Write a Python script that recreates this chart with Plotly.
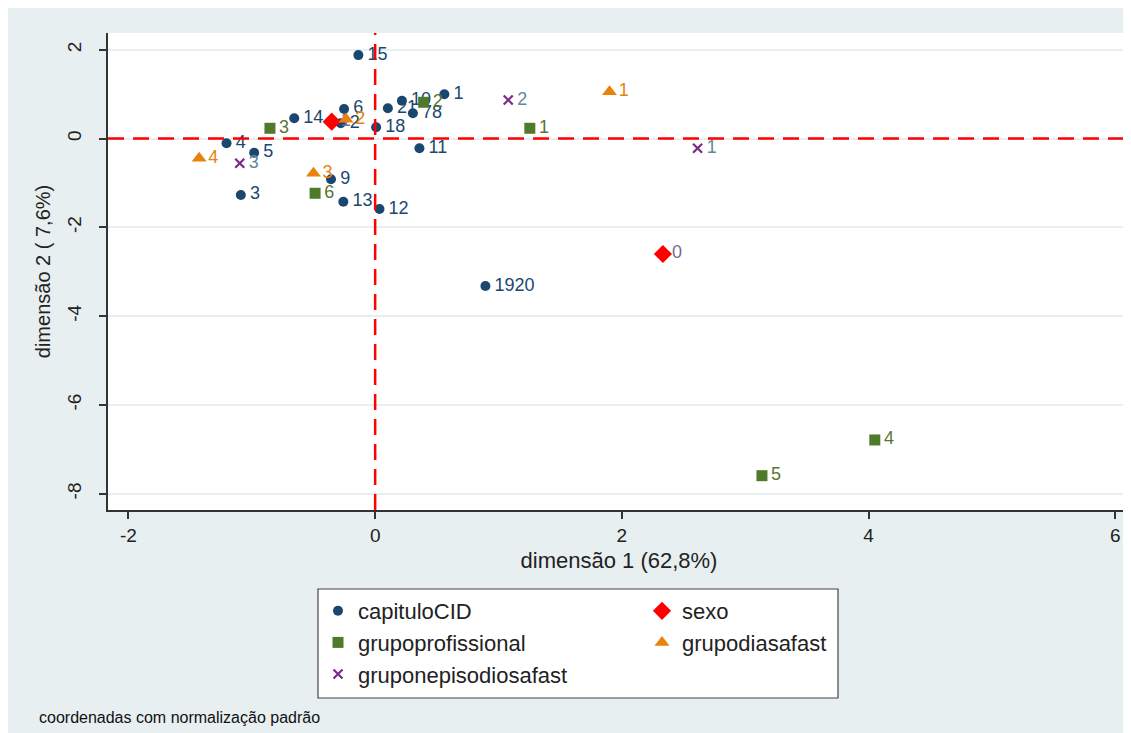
import plotly.graph_objects as go

# ---- data ----
cid_labels = ["1", "2", "3", "4", "5", "6", "78", "9", "10", "11", "12", "13", "14", "15", "18", "1920", "21"]
cid_x = [0.561, -0.279, -1.089, -1.205, -0.981, -0.252, 0.306, -0.358, 0.217, 0.359, 0.035, -0.258, -0.656, -0.136, 0.008, 0.894, 0.103]
cid_y = [0.998, 0.345, -1.270, -0.106, -0.318, 0.667, 0.570, -0.917, 0.854, -0.218, -1.586, -1.421, 0.457, 1.880, 0.255, -3.320, 0.682]

sexo_labels = ["0", "1"]
sexo_x = [2.333, -0.352]
sexo_y = [-2.599, 0.381]

prof_labels = ["1", "2", "3", "4", "5", "6"]
prof_x = [1.254, 0.393, -0.853, 4.051, 3.136, -0.487]
prof_y = [0.232, 0.818, 0.232, -6.788, -7.592, -1.232]

dias_labels = ["1", "2", "3", "4"]
dias_x = [1.900, -0.236, -0.500, -1.427]
dias_y = [1.056, 0.435, -0.782, -0.444]

epi_labels = ["1", "2", "3"]
epi_x = [2.614, 1.079, -1.098]
epi_y = [-0.218, 0.869, -0.556]

x_ticks = [-2, 0, 2, 4, 6]
y_ticks = [-8, -6, -4, -2, 0, 2]

FONT = "Liberation Sans, Arial, sans-serif"
BG = "#e8eff1"
PW, PH, PL, PB = 1022, 477, 108, 510  # plot area width/height, left px, bottom px (page coords)


def px_x(p):
    return (p - PL) / PW


def px_y(p):
    return (PB - p) / PH


# name, x, y, labels, marker, label colour, legend id
groups = [
    ("capituloCID", cid_x, cid_y, cid_labels,
     dict(symbol="circle", size=10, color="#1a476f"), "#1a476f", "legend"),
    ("sexo", sexo_x, sexo_y, sexo_labels,
     dict(symbol="diamond", size=14, color="#ff0000"), "#746a92", "legend2"),
    ("grupoprofissional", prof_x, prof_y, prof_labels,
     dict(symbol="square", size=11, color="#4f7a2b"), "#5b7434", "legend"),
    ("grupodiasafast", dias_x, dias_y, dias_labels,
     dict(symbol="triangle-up", size=13, color="#e8820c"), "#e8820c", "legend2"),
    ("gruponepisodiosafast", epi_x, epi_y, epi_labels,
     dict(symbol="x-thin", size=9, color="#7b2a8a", line=dict(color="#7b2a8a", width=2.2)), "#63889a", "legend"),
]

fig = go.Figure()
for name, xs, ys, labs, mk, lc, lg in groups:
    fig.add_trace(go.Scatter(
        x=xs, y=ys, mode="markers", name=name, marker=mk, legend=lg,
        legendgroup=name, showlegend=True, hoverinfo="skip"))
    fig.add_trace(go.Scatter(
        x=xs, y=ys, mode="markers+text", text=labs, textposition="middle right",
        marker=dict(size=13, opacity=0),
        textfont=dict(family=FONT, size=18, color=lc),
        showlegend=False, hoverinfo="skip"))

# dashed reference lines at 0
fig.add_shape(type="line", xref="x", yref="paper", x0=0, x1=0, y0=0, y1=1,
              line=dict(color="#ff0000", width=2.5, dash="16px,9px"), layer="above")
fig.add_shape(type="line", xref="paper", yref="y", x0=0, x1=1, y0=0, y1=0,
              line=dict(color="#ff0000", width=2.5, dash="16px,9px"), layer="above")

# legend box
fig.add_shape(type="rect", xref="paper", yref="paper", x0=px_x(318), x1=px_x(838),
              y0=px_y(698), y1=px_y(589), fillcolor="white",
              line=dict(color="#444444", width=1.2))

fig.add_annotation(text="coordenadas com normalização padrão", xref="paper", yref="paper",
                   x=px_x(37), y=px_y(717), xanchor="left", yanchor="middle",
                   showarrow=False, font=dict(family=FONT, size=16, color="#111111"))

leg_common = dict(xanchor="left", yanchor="top", bgcolor="rgba(0,0,0,0)", borderwidth=0,
                  font=dict(family=FONT, size=22, color="#222222"), tracegroupgap=0,
                  orientation="v")

# page body has an 8px margin, so the figure is 8px smaller than the window
fig.update_layout(
    width=1123, height=725,
    margin=dict(l=100, r=1, t=25, b=223, autoexpand=False),
    paper_bgcolor=BG, plot_bgcolor="white",
    font=dict(family=FONT, color="#222222"),
    xaxis=dict(range=[-2.166, 6.12], tickvals=x_ticks, ticktext=[str(v) for v in x_ticks],
               showgrid=False, zeroline=False, showline=True, linecolor="#333333", linewidth=1.5,
               ticks="outside", ticklen=7, tickcolor="#333333", tickwidth=1.5,
               tickfont=dict(family=FONT, size=19, color="#222222"),
               title=dict(text="dimensão 1 (62,8%)", font=dict(family=FONT, size=22, color="#222222"),
                          standoff=8)),
    yaxis=dict(range=[-8.365, 2.378], tickvals=y_ticks, ticktext=[str(v) for v in y_ticks],
               showgrid=True, gridcolor=BG, gridwidth=2, zeroline=False, showline=True,
               linecolor="#333333", linewidth=1.5,
               ticks="outside", ticklen=7, tickcolor="#333333", tickwidth=1.5, tickangle=-90,
               ticklabelstandoff=11,
               tickfont=dict(family=FONT, size=19, color="#222222"),
               title=dict(text="dimensão 2 ( 7,6%)", font=dict(family=FONT, size=20, color="#222222"),
                          standoff=8)),
    legend=dict(x=px_x(318), y=px_y(590), **leg_common),
    legend2=dict(x=px_x(642), y=px_y(590), **leg_common),
    showlegend=True,
)

fig.write_html("out.html")
